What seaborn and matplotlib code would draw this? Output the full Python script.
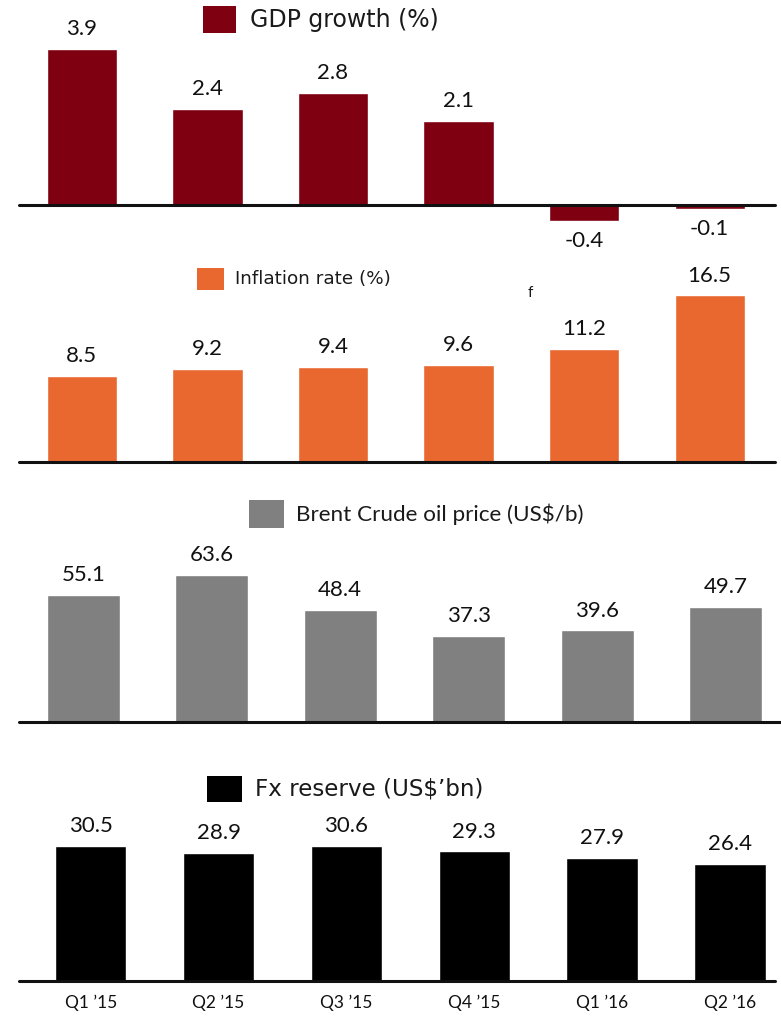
import matplotlib
matplotlib.use("Agg")
import matplotlib.pyplot as plt
import seaborn as sns
from matplotlib.patches import Rectangle

sns.set_theme(style="white")
plt.rcParams['font.family'] = ['Lato', 'DejaVu Sans']

# Data
quarters = ["Q1 \u201915", "Q2 \u201915", "Q3 \u201915", "Q4 \u201915", "Q1 \u201916", "Q2 \u201916"]
gdp_growth = [3.9, 2.4, 2.8, 2.1, -0.4, -0.1]
inflation = [8.5, 9.2, 9.4, 9.6, 11.2, 16.5]
brent_price = [55.1, 63.6, 48.4, 37.3, 39.6, 49.7]
fx_reserve = [30.5, 28.9, 30.6, 29.3, 27.9, 26.4]

W, H = 781, 1016
fig = plt.figure(figsize=(W / 100, H / 100), dpi=100)


def px_axes(left, right, top, bottom):
    return fig.add_axes([left / W, 1 - bottom / H, (right - left) / W, (bottom - top) / H])


def legend_box(x, y, w, h, color, label, tx, size, family):
    fig.patches.append(Rectangle((x / W, 1 - (y + h) / H), w / W, h / H,
                                 transform=fig.transFigure, color=color, lw=0))
    fig.text(tx / W, 1 - (y + h / 2) / H, label, fontsize=size, va="center",
             ha="left", color="#1a1a1a", family=family)


panels = [
    # values, color, (left, right, top, bottom px), xlim, ylim, bar width
    (gdp_growth, "#7E0011", (19, 775, 5, 245), (-0.5, 5.52), (-1.0, 5.0), 0.56),
    (inflation, "#E86830", (19, 775, 270, 462), (-0.5, 5.52), (0, 19.0), 0.56),
    (brent_price, "#808080", (19, 781, 500, 722), (-0.5, 5.43), (0, 96), 0.57),
    (fx_reserve, "#000000", (19, 775, 770, 981), (-0.56, 5.35), (0, 47.7), 0.56),
]

axes = []
for i, (vals, color, box, xlim, ylim, bw) in enumerate(panels):
    ax = px_axes(*box)
    sns.barplot(x=quarters, y=vals, color=color, width=bw, saturation=1, ax=ax)
    ax.set_xlim(*xlim)
    ax.set_ylim(*ylim)
    ax.axhline(0, color="#111111", lw=2.2, clip_on=False, zorder=5)
    for s in ax.spines.values():
        s.set_visible(False)
    ax.set_yticks([])
    ax.set_ylabel("")
    ax.set_xlabel("")
    ax.patch.set_alpha(0)
    for c in ax.containers:
        ax.bar_label(c, labels=[f"{v:.1f}" for v in vals], padding=7,
                     fontsize=16, color="#111111")
    if i < 3:
        ax.set_xticks([])
    else:
        ax.tick_params(axis="x", length=0, pad=10, labelsize=12.5, labelcolor="#111111")
    axes.append(ax)

# Legend-like titles
legend_box(203, 6, 33, 27, "#7E0011", "GDP growth (%)", 250, 17, "DejaVu Sans")
legend_box(197, 268, 27, 22, "#E86830", "Inflation rate (%)", 235, 13.2, "DejaVu Sans")
legend_box(249, 500, 35, 28, "#808080", "Brent Crude oil price (US$/b)", 296, 16.2, "Lato")
legend_box(207, 776, 35, 26, "#000000", "Fx reserve (US$\u2019bn)", 255, 16.6, "DejaVu Sans")
fig.text(530 / W, 1 - 293 / H, "f", fontsize=11, ha="center", va="center", color="#1a1a1a")

fig.savefig("out.png", dpi=100)
